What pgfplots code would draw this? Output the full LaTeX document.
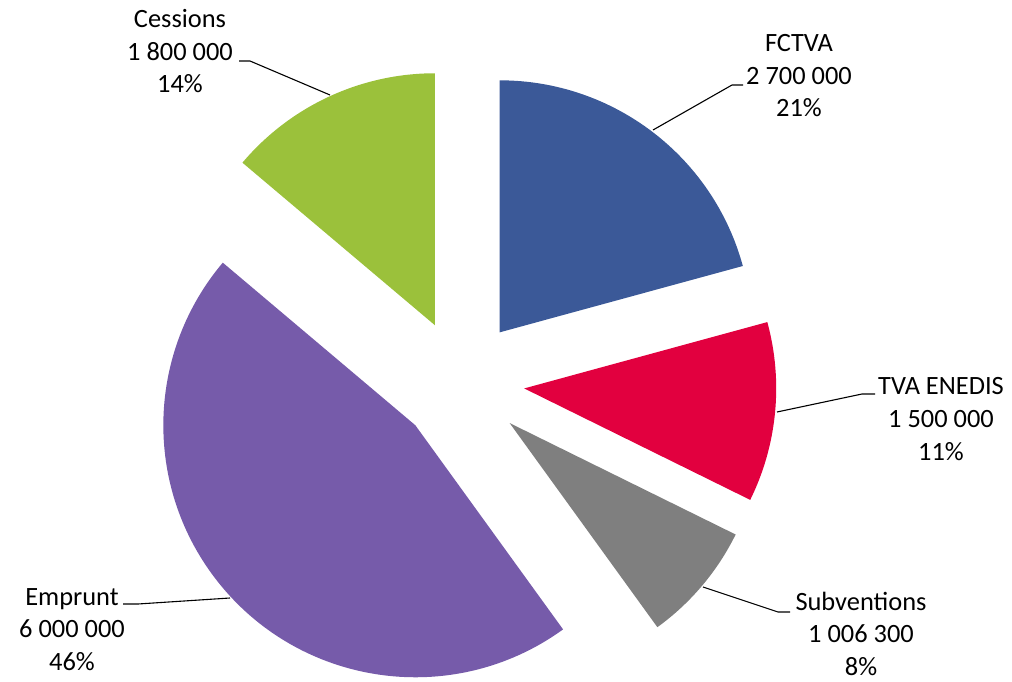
\documentclass[border=0pt]{standalone}
\usepackage{pgfplots}
\pgfplotsset{compat=1.18}
\usepackage{pgfplotstable}
\usepackage{fontspec}
\setmainfont{Carlito}
\definecolor{cFCTVA}{HTML}{3B5998}
\definecolor{cTVA}{HTML}{E2003F}
\definecolor{cSub}{HTML}{7F7F7F}
\definecolor{cEmp}{HTML}{765BAA}
\definecolor{cCes}{HTML}{9BC13B}
% name, value, amount text, percent, colour, label centre x, first baseline y,
% leader: text end x, elbow x, y, slice end x, y   (pixel coordinates, y downwards)
\pgfplotstableread[col sep=comma]{
name,value,amount,pct,color,tx,ty,hxa,hxb,hy,ex,ey
FCTVA,2700000,2 700 000,21,cFCTVA,799,52,743,732,85,653,130
TVA ENEDIS,1500000,1 500 000,11,cTVA,941,395,875,862,394,777,412
Subventions,1006300,1 006 300,8,cSub,861,610,790,778,612,703,587
Emprunt,6000000,6 000 000,46,cEmp,72,605,123,138,604,230,598
Cessions,1800000,1 800 000,14,cCes,180,28,239,250,61,330,95
}\piedata
\newcommand\getcell[2]{\pgfplotstablegetelem{\i}{#1}\of\piedata\let#2\pgfplotsretval}
\begin{document}
\begin{tikzpicture}
\begin{axis}[
  hide axis, scale only axis,
  width=506pt, height=340.5pt,
  xmin=0, xmax=1012, ymin=0, ymax=681,
  clip=false,
]
\coordinate (ll) at (axis cs:0,0);
\coordinate (ur) at (axis cs:1012,681);
\pgfplotsextra{
  \xdef\tot{0}
  \pgfplotsforeachungrouped \i in {0,...,4}{%
    \getcell{value}{\v}%
    \begingroup
    \pgfkeys{/pgf/fpu=true,/pgf/fpu/output format=fixed}%
    \pgfmathparse{\tot+\v}\xdef\tot{\pgfmathresult}%
    \endgroup
  }%
  \xdef\cum{0}
  \pgfplotsforeachungrouped \i in {0,...,4}{%
    \getcell{value}{\v}\getcell{color}{\col}\getcell{name}{\nm}%
    \getcell{amount}{\amt}\getcell{pct}{\pc}%
    \getcell{tx}{\tx}\getcell{ty}{\ty}\getcell{hxa}{\hxa}\getcell{hxb}{\hxb}%
    \getcell{hy}{\hy}\getcell{ex}{\ex}\getcell{ey}{\ey}%
    \begingroup
    \pgfkeys{/pgf/fpu=true,/pgf/fpu/output format=fixed}%
    \pgfmathparse{360*\v/\tot}\xdef\ang{\pgfmathresult}%
    \endgroup
    \pgfmathsetmacro\aa{90-\cum}%
    \pgfmathsetmacro\ab{90-\cum-\ang}%
    \pgfmathsetmacro\am{(\aa+\ab)/2}%
    \pgfmathsetmacro\px{461.5+63*cos(\am)}%
    \pgfmathsetmacro\py{298.6+63*sin(\am)}%
    \fill[color=\col] (axis cs:\px,\py) -- ++(\aa:126pt)
        arc[start angle=\aa, end angle=\ab, radius=126pt] -- cycle;
    \pgfmathsetmacro\cumn{\cum+\ang}\xdef\cum{\cumn}%
    \pgfmathsetmacro\hyy{681-\hy}\pgfmathsetmacro\eyy{681-\ey}%
    \draw[black, line width=0.55pt] (axis cs:\hxa,\hyy) -- (axis cs:\hxb,\hyy) -- (axis cs:\ex,\eyy);
    \pgfmathsetmacro\ya{681-\ty}%
    \pgfmathsetmacro\yb{681-\ty-32.5}%
    \pgfmathsetmacro\yc{681-\ty-65}%
    \node[anchor=base, inner sep=0pt, font=\fontsize{13.2}{16.25}\selectfont] at (axis cs:\tx,\ya) {\nm};
    \node[anchor=base, inner sep=0pt, font=\fontsize{13.2}{16.25}\selectfont] at (axis cs:\tx,\yb) {\amt};
    \node[anchor=base, inner sep=0pt, font=\fontsize{13.2}{16.25}\selectfont] at (axis cs:\tx,\yc) {\pc\%};
  }%
}
\end{axis}
\pgfresetboundingbox
\path (ll) rectangle (ur);
\end{tikzpicture}
\end{document}
